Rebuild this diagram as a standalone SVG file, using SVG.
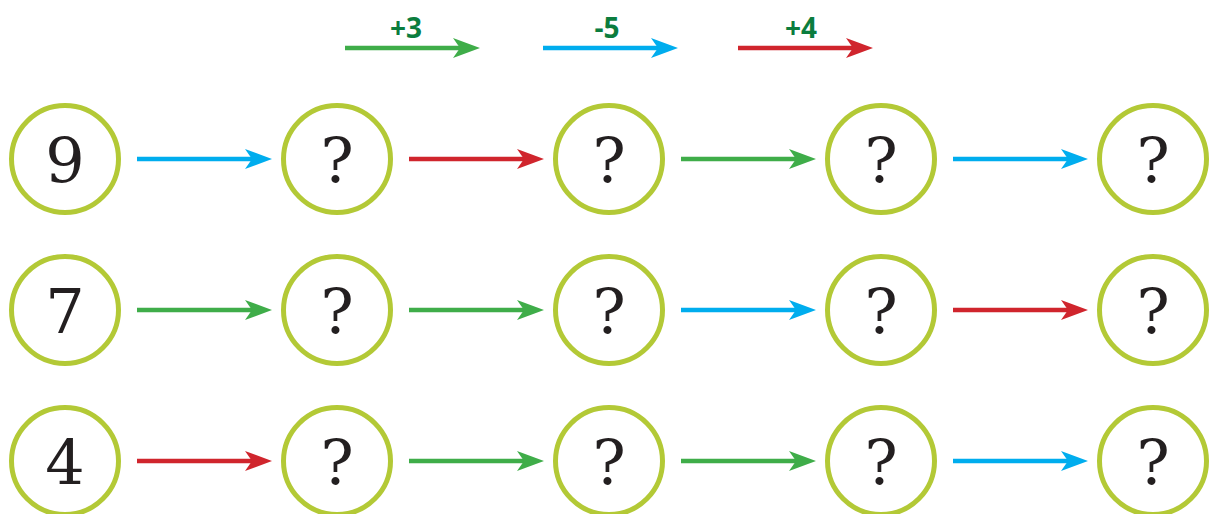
<svg xmlns="http://www.w3.org/2000/svg" width="1211" height="514" viewBox="0 0 1211 514">
<style>
.n circle{fill:#fff;stroke:#b3c936;stroke-width:5}
.n text{font-family:"DejaVu Serif","Liberation Serif",serif;font-size:62px;fill:#231f20;text-anchor:middle}
.g{stroke:#3fad49;stroke-width:4.5;fill:none}
.b{stroke:#00adee;stroke-width:4.5;fill:none}
.r{stroke:#d0252d;stroke-width:4.5;fill:none}
.lbl{font-family:"Open Sans","Liberation Sans",sans-serif;font-weight:bold;font-size:28px;fill:#0b7d3e;text-anchor:middle}
</style>
<defs>
<marker id="mg" markerUnits="userSpaceOnUse" markerWidth="30" markerHeight="24" refX="7" refY="11" orient="auto" viewBox="0 0 30 24"><path d="M0,1 L27,11 L0,21 L7,11 Z" fill="#3fad49"/></marker>
<marker id="mb" markerUnits="userSpaceOnUse" markerWidth="30" markerHeight="24" refX="7" refY="11" orient="auto" viewBox="0 0 30 24"><path d="M0,1 L27,11 L0,21 L7,11 Z" fill="#00adee"/></marker>
<marker id="mr" markerUnits="userSpaceOnUse" markerWidth="30" markerHeight="24" refX="7" refY="11" orient="auto" viewBox="0 0 30 24"><path d="M0,1 L27,11 L0,21 L7,11 Z" fill="#d0252d"/></marker>
</defs>
<g id="legend">
<text class="lbl" x="406" y="38">+3</text>
<line class="g" x1="345" y1="48" x2="460" y2="48" marker-end="url(#mg)"/>
<text class="lbl" x="607" y="38">-5</text>
<line class="b" x1="543" y1="48" x2="658" y2="48" marker-end="url(#mb)"/>
<text class="lbl" x="801" y="38">+4</text>
<line class="r" x1="738" y1="48" x2="853" y2="48" marker-end="url(#mr)"/>
</g>
<g id="connectors">
<line class="b" x1="137" y1="159" x2="252" y2="159" marker-end="url(#mb)"/>
<line class="r" x1="409" y1="159" x2="524" y2="159" marker-end="url(#mr)"/>
<line class="g" x1="681" y1="159" x2="796" y2="159" marker-end="url(#mg)"/>
<line class="b" x1="953" y1="159" x2="1068" y2="159" marker-end="url(#mb)"/>
<line class="g" x1="137" y1="310" x2="252" y2="310" marker-end="url(#mg)"/>
<line class="g" x1="409" y1="310" x2="524" y2="310" marker-end="url(#mg)"/>
<line class="b" x1="681" y1="310" x2="796" y2="310" marker-end="url(#mb)"/>
<line class="r" x1="953" y1="310" x2="1068" y2="310" marker-end="url(#mr)"/>
<line class="r" x1="137" y1="461" x2="252" y2="461" marker-end="url(#mr)"/>
<line class="g" x1="409" y1="461" x2="524" y2="461" marker-end="url(#mg)"/>
<line class="g" x1="681" y1="461" x2="796" y2="461" marker-end="url(#mg)"/>
<line class="b" x1="953" y1="461" x2="1068" y2="461" marker-end="url(#mb)"/>
</g>
<g id="n1-1" class="n"><circle cx="65" cy="159" r="53.5"/><text x="65" y="182">9</text></g>
<g id="n1-2" class="n"><circle cx="337" cy="159" r="53.5"/><text x="337" y="182">?</text></g>
<g id="n1-3" class="n"><circle cx="609" cy="159" r="53.5"/><text x="609" y="182">?</text></g>
<g id="n1-4" class="n"><circle cx="881" cy="159" r="53.5"/><text x="881" y="182">?</text></g>
<g id="n1-5" class="n"><circle cx="1153" cy="159" r="53.5"/><text x="1153" y="182">?</text></g>
<g id="n2-1" class="n"><circle cx="65" cy="310" r="53.5"/><text x="65" y="333">7</text></g>
<g id="n2-2" class="n"><circle cx="337" cy="310" r="53.5"/><text x="337" y="333">?</text></g>
<g id="n2-3" class="n"><circle cx="609" cy="310" r="53.5"/><text x="609" y="333">?</text></g>
<g id="n2-4" class="n"><circle cx="881" cy="310" r="53.5"/><text x="881" y="333">?</text></g>
<g id="n2-5" class="n"><circle cx="1153" cy="310" r="53.5"/><text x="1153" y="333">?</text></g>
<g id="n3-1" class="n"><circle cx="65" cy="461" r="53.5"/><text x="65" y="484">4</text></g>
<g id="n3-2" class="n"><circle cx="337" cy="461" r="53.5"/><text x="337" y="484">?</text></g>
<g id="n3-3" class="n"><circle cx="609" cy="461" r="53.5"/><text x="609" y="484">?</text></g>
<g id="n3-4" class="n"><circle cx="881" cy="461" r="53.5"/><text x="881" y="484">?</text></g>
<g id="n3-5" class="n"><circle cx="1153" cy="461" r="53.5"/><text x="1153" y="484">?</text></g>
</svg>
